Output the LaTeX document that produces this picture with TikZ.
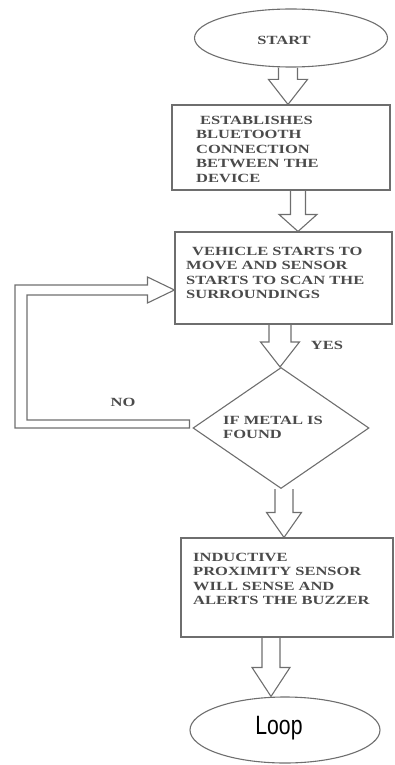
\documentclass[tikz,border=0pt]{standalone}
\usepackage{fontspec}
\setmainfont{Liberation Serif}
\newfontfamily\flowfont[FakeStretch=1.32]{Liberation Serif}
\newfontfamily\loopfont[FakeStretch=0.8]{Liberation Sans}
\usetikzlibrary{shapes.geometric,calc}
\definecolor{linegray}{RGB}{110,110,110}
\definecolor{textgray}{RGB}{75,75,75}
\newcommand\downblockarrow[6]{%
  \draw[blockarrow] let \p1=(#1), \p2=(#2) in
   (#3pt-#4pt,\y1) -- (#3pt-#4pt,\y2+#6pt) -- (#3pt-#5pt,\y2+#6pt) -- (#3pt,\y2)
   -- (#3pt+#5pt,\y2+#6pt) -- (#3pt+#4pt,\y2+#6pt) -- (#3pt+#4pt,\y1);}
\begin{document}
\begin{tikzpicture}[x=1pt,y=-1pt,
  shapeline/.style={draw=linegray,line width=1.1pt,inner sep=0pt},
  ftext/.style={font=\flowfont\bfseries\fontsize{12.5}{14.5}\selectfont,text=textgray,align=left,inner sep=0pt,anchor=north west},
  blockarrow/.style={draw=linegray,line width=1.1pt,line join=miter}]
\useasboundingbox (0,0) rectangle (394,765);

% shapes
\node[ellipse,shapeline,minimum width=193pt,minimum height=58pt] (start) at (291,38) {};
\node[ftext,anchor=center] (starttxt) at (284,40) {START};

\node[rectangle,shapeline,minimum width=218pt,minimum height=85pt] (b1) at (281,147.5) {};
\node[ftext] (b1t) at (196,116) {\hspace{4pt}ESTABLISHES\\BLUETOOTH\\CONNECTION\\BETWEEN THE\\DEVICE};

\node[rectangle,shapeline,minimum width=217pt,minimum height=92pt] (b2) at (283.5,278) {};
\node[ftext] (b2t) at (186,247) {\hspace{6pt}VEHICLE STARTS TO\\MOVE AND SENSOR\\STARTS TO SCAN THE\\SURROUNDINGS};

\node[diamond,shapeline,aspect=1.45,minimum width=176pt,minimum height=121pt] (d) at (281,428) {};
\node[ftext] (dt) at (223,416) {IF METAL IS\\FOUND};

\node[rectangle,shapeline,minimum width=212pt,minimum height=99pt] (b3) at (287,587.5) {};
\node[ftext] (b3t) at (193,553) {INDUCTIVE\\PROXIMITY SENSOR\\WILL SENSE AND\\ALERTS THE BUZZER};

\node[ellipse,shapeline,minimum width=190pt,minimum height=66pt] (loop) at (285,730) {};
\node[font=\loopfont\fontsize{26.5}{30}\selectfont,inner sep=0pt] (looptxt) at (279,728) {Loop};

% labels
\node[ftext,anchor=center] (yes) at (327,345) {YES};
\node[ftext,anchor=center] (no) at (123,402) {NO};

% block arrows
\downblockarrow{start.south}{b1.north}{288}{9.5}{19.5}{25}
\downblockarrow{b1.south}{b2.north}{298}{7.5}{19}{17}
\downblockarrow{b2.south}{d.north}{280}{11}{19.5}{25}
\downblockarrow{d.south}{b3.north}{284}{9}{17.5}{25}
\downblockarrow{b3.south}{loop.north}{271}{9}{19}{29}

% NO loop arrow
\draw[blockarrow] let \p1=(d.west), \p2=(b2.west) in
  (\x1-3pt,\y1) -- (15pt,\y1) -- (15pt,\y2-7pt) -- (\x2-27pt,\y2-7pt)
  -- (\x2-27pt,\y2+1pt) -- (\x2,\y2-12pt) -- (\x2-27pt,\y2-25pt)
  -- (\x2-27pt,\y2-17pt) -- (27pt,\y2-17pt) -- (27pt,\y1+8pt)
  -- (\x1-3pt,\y1+8pt) -- cycle;
\end{tikzpicture}
\end{document}
